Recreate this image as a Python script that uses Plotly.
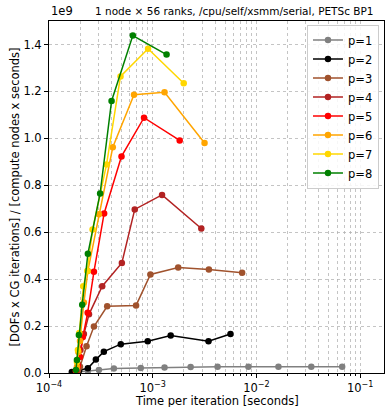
import plotly.graph_objects as go

# ---- data ----
labels = ["p=1", "p=2", "p=3", "p=4", "p=5", "p=6", "p=7", "p=8"]
colors = ["gray", "black", "sienna", "firebrick", "red", "orange", "gold", "green"]

t_p1 = [1.90e-4, 2.37e-4, 3.03e-4, 4.22e-4, 7.67e-4, 1.30e-3, 2.32e-3, 4.22e-3, 8.37e-3, 1.63e-2, 3.38e-2, 6.71e-2]
r_p1 = [0.004e9, 0.009e9, 0.013e9, 0.019e9, 0.021e9, 0.023e9, 0.026e9, 0.027e9, 0.027e9, 0.027e9, 0.027e9, 0.027e9]

t_p2 = [1.66e-4, 1.95e-4, 2.37e-4, 2.83e-4, 3.38e-4, 4.92e-4, 8.95e-4, 1.49e-3, 3.45e-3, 5.62e-3]
r_p2 = [0.004e9, 0.010e9, 0.020e9, 0.057e9, 0.091e9, 0.123e9, 0.135e9, 0.160e9, 0.135e9, 0.166e9]

t_p3 = [1.90e-4, 1.99e-4, 2.30e-4, 2.71e-4, 3.64e-4, 6.91e-4, 9.51e-4, 1.76e-3, 3.48e-3, 7.28e-3]
r_p3 = [0.011e9, 0.027e9, 0.114e9, 0.198e9, 0.284e9, 0.288e9, 0.420e9, 0.450e9, 0.441e9, 0.427e9]

t_p4 = [1.82e-4, 1.90e-4, 2.01e-4, 2.17e-4, 2.43e-4, 3.26e-4, 5.04e-4, 6.71e-4, 1.23e-3, 2.94e-3]
r_p4 = [0.009e9, 0.038e9, 0.098e9, 0.166e9, 0.250e9, 0.370e9, 0.469e9, 0.697e9, 0.759e9, 0.616e9]

t_p5 = [1.82e-4, 1.90e-4, 1.99e-4, 2.12e-4, 2.36e-4, 2.71e-4, 3.40e-4, 5.00e-4, 8.24e-4, 1.82e-3]
r_p5 = [0.009e9, 0.030e9, 0.068e9, 0.153e9, 0.257e9, 0.431e9, 0.680e9, 0.923e9, 1.088e9, 0.991e9]

t_p6 = [1.86e-4, 1.92e-4, 1.99e-4, 2.17e-4, 2.37e-4, 3.03e-4, 4.12e-4, 6.60e-4, 1.30e-3, 3.16e-3]
r_p6 = [0.026e9, 0.089e9, 0.136e9, 0.300e9, 0.435e9, 0.676e9, 0.962e9, 1.186e9, 1.196e9, 0.980e9]

t_p7 = [1.86e-4, 1.90e-4, 1.96e-4, 2.14e-4, 2.34e-4, 2.63e-4, 3.59e-4, 4.89e-4, 9.02e-4, 1.99e-3]
r_p7 = [0.047e9, 0.098e9, 0.170e9, 0.370e9, 0.435e9, 0.611e9, 0.889e9, 1.264e9, 1.382e9, 1.235e9]

t_p8 = [1.82e-4, 1.86e-4, 1.94e-4, 2.09e-4, 2.37e-4, 3.11e-4, 4.01e-4, 6.43e-4, 1.36e-3]
r_p8 = [0.013e9, 0.055e9, 0.162e9, 0.291e9, 0.508e9, 0.765e9, 1.159e9, 1.438e9, 1.357e9]

times = [t_p1, t_p2, t_p3, t_p4, t_p5, t_p6, t_p7, t_p8]
rates = [r_p1, r_p2, r_p3, r_p4, r_p5, r_p6, r_p7, r_p8]

x_major = [1e-4, 1e-3, 1e-2, 1e-1]
x_major_text = ["10<sup>\u22124</sup>", "10<sup>\u22123</sup>", "10<sup>\u22122</sup>", "10<sup>\u22121</sup>"]
x_minor = [m * d for d in (1e-4, 1e-3, 1e-2, 1e-1) for m in range(2, 10)]
y_ticks = [0, 0.2e9, 0.4e9, 0.6e9, 0.8e9, 1.0e9, 1.2e9, 1.4e9]
y_ticktext = ["0.0", "0.2", "0.4", "0.6", "0.8", "1.0", "1.2", "1.4"]

title_text = "1 node \u00d7 56 ranks, /cpu/self/xsmm/serial, PETSc BP1"
x_title = "Time per iteration [seconds]"
y_title = "[DOFs x CG iterations] / [compute nodes x seconds]"

FONT = "DejaVu Sans"

fig = go.Figure()
for lab, col, t, r in zip(labels, colors, times, rates):
    fig.add_trace(go.Scatter(
        x=t, y=r, mode="lines+markers", name=lab,
        line=dict(color=col, width=1.5),
        marker=dict(color=col, size=6.5),
    ))

grid_col = "rgba(176,176,176,0.75)"
fig.update_layout(
    width=390, height=407,
    margin=dict(l=49, r=6, t=21, b=34),
    paper_bgcolor="white", plot_bgcolor="white",
    font=dict(family=FONT, size=11, color="black"),
    showlegend=True,
    legend=dict(
        x=0.985, y=0.99, xanchor="right", yanchor="top",
        bgcolor="rgba(255,255,255,0.85)", bordercolor="#cccccc", borderwidth=1,
        font=dict(family=FONT, size=11.5),
        tracegroupgap=0, itemwidth=30,
    ),
)

fig.update_xaxes(
    type="log", range=[-4, -0.77],
    tickmode="array", tickvals=x_major, ticktext=x_major_text,
    ticks="outside", ticklen=4, tickcolor="black",
    showline=True, linecolor="black", linewidth=1, mirror=True,
    showgrid=True, gridcolor=grid_col, griddash="dot", gridwidth=1,
    minor=dict(tickmode="array", tickvals=x_minor, ticks="outside", ticklen=2,
               tickcolor="black", showgrid=True, gridcolor=grid_col,
               griddash="dot", gridwidth=1),
    tickfont=dict(size=11.5),
    zeroline=False,
)
fig.update_yaxes(
    range=[0, 1.5e9],
    tickmode="array", tickvals=y_ticks, ticktext=y_ticktext,
    ticks="outside", ticklen=4, tickcolor="black",
    showline=True, linecolor="black", linewidth=1, mirror=True,
    showgrid=True, gridcolor=grid_col, griddash="dot", gridwidth=1,
    title=dict(text=y_title, standoff=1, font=dict(size=11.5)),
    tickfont=dict(size=11.5),
    zeroline=False,
)

# title, x-axis title and offset text as annotations placed in paper coords
fig.add_annotation(text=title_text, xref="paper", yref="paper", x=0.555, y=1,
                   xanchor="center", yanchor="bottom", showarrow=False, yshift=2,
                   font=dict(family=FONT, size=10.5))
fig.add_annotation(text=x_title, xref="paper", yref="paper", x=0.5, y=0,
                   xanchor="center", yanchor="top", showarrow=False, yshift=-19,
                   font=dict(family=FONT, size=11.5))
fig.add_annotation(text="1e9", xref="paper", yref="paper", x=0, y=1,
                   xanchor="left", yanchor="bottom", showarrow=False,
                   font=dict(family=FONT, size=11.5), yshift=1)

fig.write_html(
    "out.html",
    config={"displayModeBar": False},
    post_script="document.body.style.margin='0';document.body.style.padding='0';",
)
